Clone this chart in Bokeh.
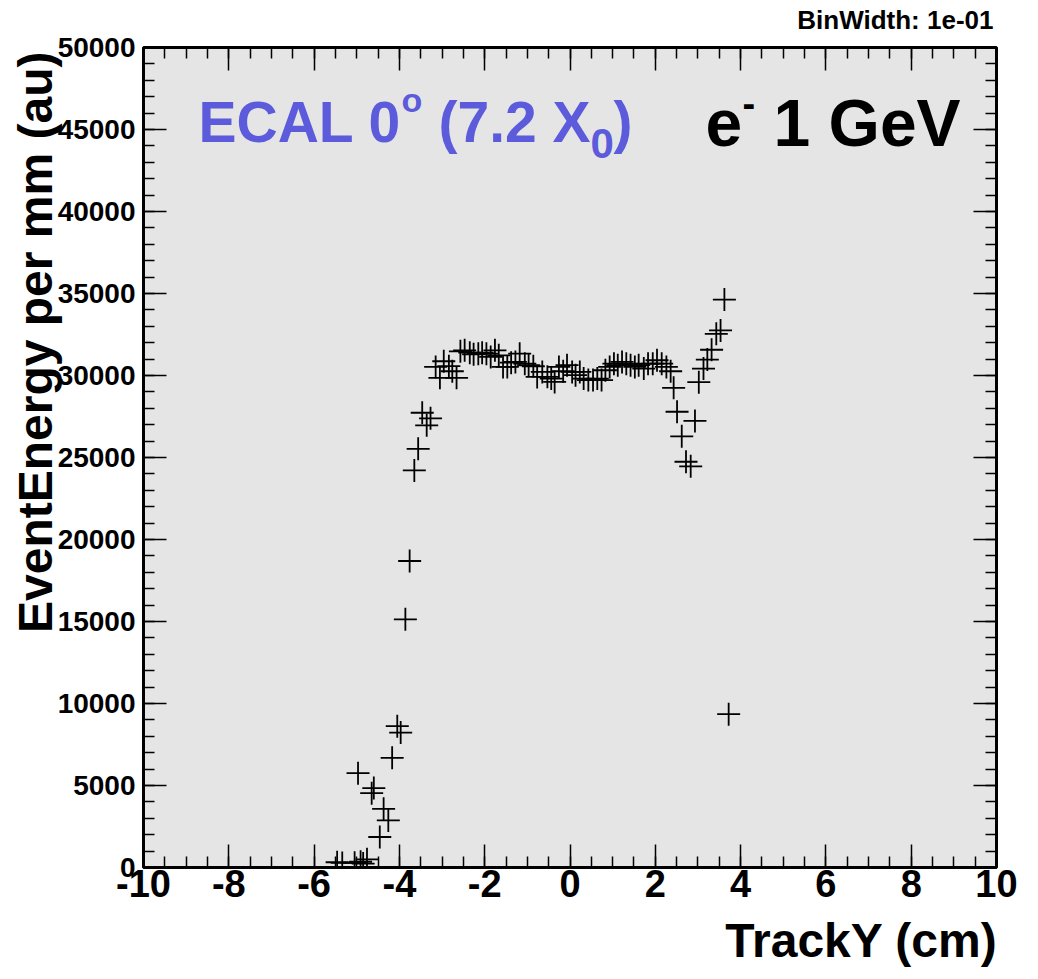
from bokeh.plotting import figure
from bokeh.models import (LinearAxis, SingleIntervalTicker, Label, Title,
                          ColumnDataSource, CustomLabelingPolicy)
from bokeh.embed import file_html
from bokeh.resources import INLINE

# ---------------- data ----------------
track_y = [
    -5.46, -5.34, -5.05, -4.91, -4.85, -4.76,
    -4.97, -4.65, -4.60, -4.46, -4.37, -4.26, -4.17, -4.05, -3.97,
    -3.86, -3.76, -3.65, -3.56, -3.465, -3.36, -3.27,
    -3.15, -3.05, -2.96, -2.84, -2.76, -2.66,
    -2.57, -2.47, -2.35, -2.26, -2.15, -2.06, -1.96, -1.86, -1.76, -1.67,
    -1.57, -1.47, -1.38, -1.28, -1.18, -1.06, -0.97, -0.86, -0.77,
    -0.65, -0.53, -0.44, -0.36, -0.26, -0.16, -0.07, 0.05, 0.13, 0.23,
    0.32, 0.43, 0.54, 0.64, 0.74, 0.83, 0.93, 1.03, 1.12, 1.22,
    1.32, 1.42, 1.52, 1.61, 1.73, 1.83, 1.94, 2.04, 2.15, 2.26, 2.36,
    2.43, 2.51, 2.62, 2.72, 2.83, 2.93, 3.02, 3.13, 3.22, 3.32,
    3.43, 3.53, 3.62, 3.72,
]
energy = [
    320, 280, 290, 350, 240, 500,
    5750, 4530, 4840, 1860, 3580, 2870, 6690, 8620, 8230,
    15130, 18690, 24210, 25530, 27730, 26960, 27390,
    30520, 29860, 30870, 30570, 30260, 29860,
    31475, 31536, 31390, 31293, 31330, 31390, 31330, 31130, 31536, 31232,
    30522, 30522, 30783, 30825, 31330, 30723, 30626, 30565, 29916,
    30220, 29920, 29810, 29610, 30520, 30260, 30630, 30220, 30020, 30220,
    29810, 29720, 29720, 29810, 29720, 30320, 30520, 30720, 30630, 30830,
    30720, 30630, 30520, 30630, 30420, 30720, 30720, 30930, 30720, 30520, 30260,
    29250, 27790, 26290, 24740, 24460, 27230, 29590, 30420, 30970, 31570,
    32540, 32750, 34630, 9350,
]

x_tick_values = [-10, -8, -6, -4, -2, 0, 2, 4, 6, 8, 10]
x_tick_labels = ["-10", "-8", "-6", "-4", "-2", "0", "2", "4", "6", "8", "10"]

x_title = "TrackY (cm)"
y_title = "EventEnergy per mm (au)"
bin_text = "BinWidth: 1e-01"

FONT = "Liberation Sans"

p = figure(width=1038, height=979, x_range=(-10, 10), y_range=(0, 50000),
           output_backend="svg", toolbar_location=None,
           x_axis_type=None, y_axis_type=None,
           min_border_left=143, min_border_right=42,
           min_border_top=44, min_border_bottom=111)
p.background_fill_color = "#e5e5e5"
p.border_fill_color = "white"
p.outline_line_color = "black"
p.outline_line_width = 3
p.grid.visible = False

no_labels = CustomLabelingPolicy(code="return new Set()")


def tick_axis(ticker, show_labels, size):
    ax = LinearAxis(ticker=ticker)
    ax.axis_line_color = None
    ax.major_tick_in = 23
    ax.major_tick_out = 0
    ax.minor_tick_in = 11
    ax.minor_tick_out = 0
    ax.major_tick_line_color = "black"
    ax.minor_tick_line_color = "black"
    ax.major_tick_line_width = 1.5
    ax.minor_tick_line_width = 1.5
    if show_labels:
        ax.major_label_text_font = FONT
        ax.major_label_text_font_style = "bold"
        ax.major_label_text_font_size = size
        ax.major_label_text_color = "black"
    else:
        ax.major_label_policy = no_labels
        ax.major_label_standoff = 0
    return ax


def side_title(text, size, align, offset, standoff):
    return Title(text=text, text_font=FONT, text_font_style="bold",
                 text_font_size=size, text_color="black", align=align,
                 offset=offset, standoff=standoff)


xb = tick_axis(SingleIntervalTicker(interval=2, num_minor_ticks=4), True, "38px")
xb.major_label_standoff = 2
xb.major_label_overrides = dict(zip(x_tick_values, x_tick_labels))
p.add_layout(xb, "below")
p.add_layout(side_title(x_title, "48px", "right", -1, 25), "below")

xt = tick_axis(SingleIntervalTicker(interval=2, num_minor_ticks=4), False, None)
p.add_layout(xt, "above")
p.add_layout(side_title(bin_text, "26px", "right", 3, 4), "above")

yl = tick_axis(SingleIntervalTicker(interval=5000, num_minor_ticks=5), True, "28px")
yl.major_label_standoff = 8
p.add_layout(yl, "left")
p.add_layout(side_title(y_title, "48px", "right", 4, -14), "left")

yr = tick_axis(SingleIntervalTicker(interval=5000, num_minor_ticks=5), False, None)
p.add_layout(yr, "right")

src = ColumnDataSource(dict(x=track_y, y=energy))
p.scatter("x", "y", source=src, marker="cross", size=23,
          line_color="black", line_width=1.8)


# pixel helpers (reference frame: x 143..996, y 44..868)
def dx(px):
    return (px - 143) / 42.65 - 10

def dy(py):
    return (868 - py) * 60.68


def lab(text, px, py, size, color="black"):
    # py is the wanted baseline; empirical offset of the label anchor
    shift = 0.43 * size
    p.add_layout(Label(x=dx(px), y=dy(py - shift), text=text, text_font=FONT,
                       text_font_style="bold", text_font_size=f"{size}px",
                       text_color=color, text_align="left",
                       text_baseline="alphabetic"))


blue = "#5b5bdb"
lab("ECAL 0", 198, 143, 57, color=blue)
lab("o", 401, 111, 34, color=blue)
lab("(7.2 X", 438, 143, 57, color=blue)
lab("0", 590, 159, 42, color=blue)
lab(")", 613, 143, 57, color=blue)

lab("e", 705, 148, 66)
lab("-", 742, 117, 38)
lab("1 GeV", 773, 148, 66)

open("out.html", "w").write(file_html(p, INLINE))
